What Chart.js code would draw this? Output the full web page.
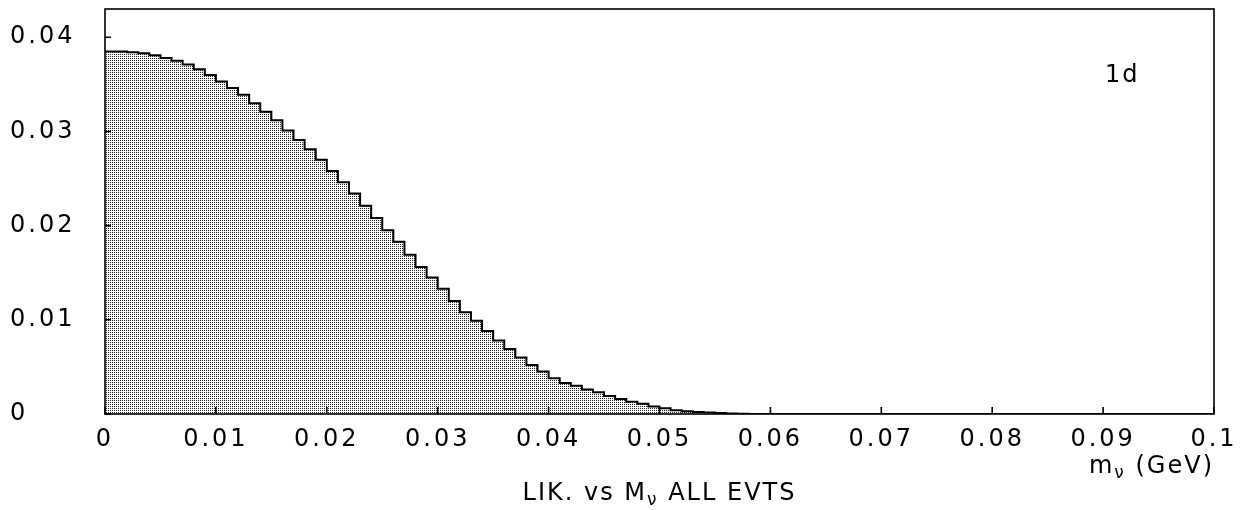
<!DOCTYPE html>
<html>
<head>
<meta charset="utf-8">
<script src="https://cdn.jsdelivr.net/npm/chart.js@4.4.1/dist/chart.umd.min.js"></script>
<style>
  html, body { margin: 0; padding: 0; background: #fff; }
  #wrap { width: 1245px; height: 510px; }
</style>
</head>
<body>
<div id="wrap"><canvas id="lik"></canvas></div>
<script>
// likelihood per 0.001 GeV bin of neutrino mass, from 0 to 0.1 GeV
const binWidth = 0.001;
const likelihood = [
  0.0385, 0.0385, 0.0384, 0.0383, 0.0381, 0.0378, 0.0375, 0.0371, 0.0366, 0.0360,
  0.0353, 0.0346, 0.0339, 0.0330, 0.0321, 0.0312, 0.0301, 0.0291, 0.0281, 0.0270,
  0.0258, 0.0246, 0.0234, 0.0221, 0.0208, 0.0195, 0.0183, 0.0169, 0.0156, 0.0145,
  0.0133, 0.0120, 0.0108, 0.0099, 0.0088, 0.0078, 0.0069, 0.0060, 0.0052, 0.0045,
  0.0038, 0.0033, 0.0030, 0.0026, 0.0023, 0.0019, 0.0016, 0.0013, 0.0011, 0.0008,
  0.0006, 0.0004, 0.0003, 0.0002, 0.00015, 0.0001, 0.00006, 0.00003, 0.00001, 0,
  0, 0, 0, 0, 0, 0, 0, 0, 0, 0,
  0, 0, 0, 0, 0, 0, 0, 0, 0, 0,
  0, 0, 0, 0, 0, 0, 0, 0, 0, 0,
  0, 0, 0, 0, 0, 0, 0, 0, 0, 0
];

const xTicks = [0, 0.01, 0.02, 0.03, 0.04, 0.05, 0.06, 0.07, 0.08, 0.09, 0.1];
const xTickLabels = ['0', '0.01', '0.02', '0.03', '0.04', '0.05', '0.06', '0.07', '0.08', '0.09', '0.1'];
const yTicks = [0, 0.01, 0.02, 0.03, 0.04];
const yTickLabels = ['0', '0.01', '0.02', '0.03', '0.04'];

const FONT = '"DejaVu Sans"';

// bin left edges, plus the right edge of the last bin to close the step line
const points = likelihood.map((v, i) => ({ x: i * binWidth, y: v }));
points.push({ x: likelihood.length * binWidth, y: likelihood[likelihood.length - 1] });

// dot screen used to shade the histogram
function dotPattern() {
  const c = document.createElement('canvas');
  c.width = 2; c.height = 2;
  const g = c.getContext('2d');
  g.fillStyle = '#fff';
  g.fillRect(0, 0, 2, 2);
  g.fillStyle = '#222';
  g.fillRect(0, 0, 1, 1);
  return g.createPattern(c, 'repeat');
}

function subText(ctx, parts, x, y, align) {
  // parts: [text, isSubscript]
  const big = '24px ' + FONT, small = '17px ' + FONT;
  let total = 0;
  parts.forEach(p => { ctx.font = p[1] ? small : big; total += ctx.measureText(p[0]).width; });
  let cx = align === 'right' ? x - total : align === 'center' ? x - total / 2 : x;
  ctx.textAlign = 'left';
  parts.forEach(p => {
    ctx.font = p[1] ? small : big;
    ctx.fillText(p[0], cx, p[1] ? y + 5 : y);
    cx += ctx.measureText(p[0]).width;
  });
}

const framePlugin = {
  id: 'frame',
  beforeUpdate(chart) { chart.ctx.letterSpacing = '3px'; },
  beforeDraw(chart) { chart.ctx.letterSpacing = '3px'; },
  afterDatasetsDraw(chart) {
    const { ctx, chartArea: a, scales: { x, y } } = chart;
    ctx.save();
    ctx.strokeStyle = '#000';
    ctx.lineWidth = 1.6;
    ctx.strokeRect(a.left, a.top, a.right - a.left, a.bottom - a.top);
    // inward tick marks
    ctx.beginPath();
    xTicks.forEach(v => {
      const px = x.getPixelForValue(v);
      ctx.moveTo(px, a.bottom);
      ctx.lineTo(px, a.bottom - 7);
    });
    yTicks.forEach(v => {
      const py = y.getPixelForValue(v);
      ctx.moveTo(a.left, py);
      ctx.lineTo(a.left + 6, py);
    });
    ctx.stroke();

    ctx.fillStyle = '#000';
    ctx.textBaseline = 'alphabetic';
    ctx.letterSpacing = '2px';
    subText(ctx, [['m', false], ['\u03bd', true], [' (GeV)', false]], a.right, 473, 'right');
    subText(ctx, [['LIK. vs M', false], ['\u03bd', true], [' ALL EVTS', false]], (a.left + a.right) / 2, 500, 'center');
    ctx.font = '24px ' + FONT;
    ctx.fillText('1d', 1105, 82);
    ctx.restore();
  }
};

new Chart(document.getElementById('lik'), {
  type: 'line',
  data: {
    datasets: [{
      data: points,
      stepped: 'before',
      borderColor: '#000',
      borderWidth: 2,
      backgroundColor: dotPattern(),
      fill: 'origin',
      pointRadius: 0
    }]
  },
  options: {
    responsive: true,
    maintainAspectRatio: false,
    animation: false,
    layout: { padding: { left: 10, top: 9, right: 31, bottom: 0 } },
    plugins: { legend: { display: false }, tooltip: { enabled: false } },
    scales: {
      x: {
        type: 'linear',
        min: 0,
        max: 0.1,
        grid: { display: false },
        border: { display: false },
        afterFit(scale) {
          scale.height = 96;
          scale.paddingLeft = 0;
          scale.paddingRight = 0;
        },
        afterBuildTicks(scale) { scale.ticks = xTicks.map(v => ({ value: v })); },
        ticks: {
          autoSkip: false,
          maxRotation: 0,
          padding: 3,
          color: '#000',
          font: { family: 'DejaVu Sans', size: 24 },
          callback: (v, i) => xTickLabels[i]
        }
      },
      y: {
        min: 0,
        max: 0.043,
        grid: { display: false },
        border: { display: false },
        afterFit(scale) {
          scale.width = 95;
          scale.paddingTop = 0;
          scale.paddingBottom = 0;
        },
        afterBuildTicks(scale) { scale.ticks = yTicks.map(v => ({ value: v })); },
        ticks: {
          crossAlign: 'far',
          color: '#000',
          font: { family: 'DejaVu Sans', size: 24 },
          callback: (v, i) => yTickLabels[i]
        }
      }
    }
  },
  plugins: [framePlugin]
});
</script>
</body>
</html>
